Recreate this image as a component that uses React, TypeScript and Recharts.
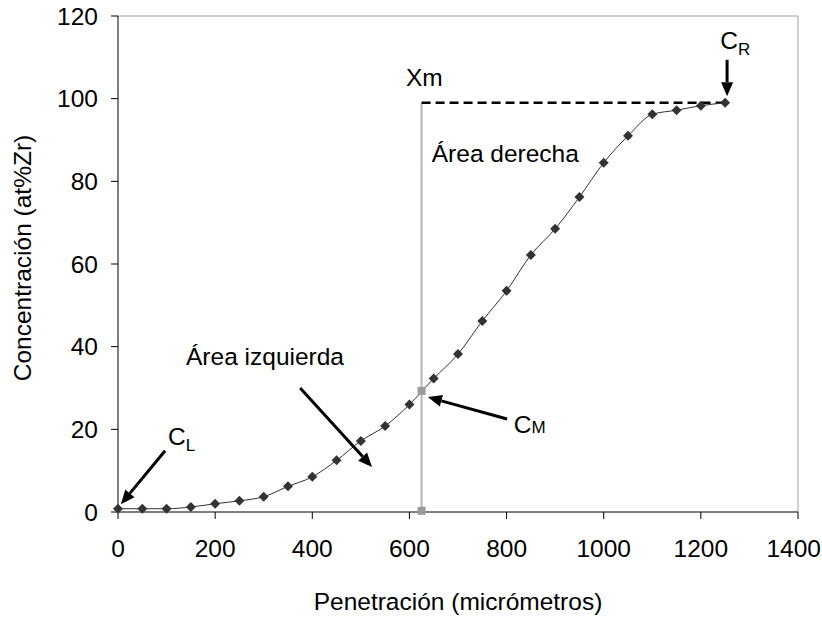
import {
  ComposedChart,
  Line,
  Scatter,
  XAxis,
  YAxis,
  ReferenceLine,
  ReferenceDot,
} from 'recharts';

// perfil de concentración
const penetracion = [
  0, 50, 100, 150, 200, 250, 300, 350, 400, 450, 500, 550, 600, 650, 700, 750, 800, 850, 900, 950,
  1000, 1050, 1100, 1150, 1200, 1250,
];
const concentracion = [
  0.8, 0.8, 0.8, 1.2, 2.0, 2.7, 3.7, 6.2, 8.5, 12.5, 17.2, 20.8, 26.0, 32.3, 38.2, 46.2, 53.5, 62.2,
  68.5, 76.2, 84.5, 91.0, 96.2, 97.2, 98.3, 99.0,
];

// plano de Matano y puntos auxiliares
const xMatano = [625, 625];
const yMatano = [0, 99];
const marcasX = [625, 625];
const marcasY = [29.3, 0.3];
const nivelX = [625, 1250];
const nivelY = [99, 99];

const xTicks = [0, 200, 400, 600, 800, 1000, 1200, 1400];
const yTicks = [0, 20, 40, 60, 80, 100, 120];

const perfil = penetracion.map((x, i) => ({ x, y: concentracion[i] }));
const matano = xMatano.map((x, i) => ({ x, y: yMatano[i] }));
const marcas = marcasX.map((x, i) => ({ x, y: marcasY[i] }));
const nivel = nivelX.map((x, i) => ({ x, y: nivelY[i] }));

const SANS = '"Liberation Sans", Arial, sans-serif';
const FS = 24.5;

const Diamond = (props: any) => {
  const { cx, cy } = props;
  if (cx == null || cy == null) return null;
  const r = 5;
  return (
    <polygon
      points={`${cx},${cy - r} ${cx + r},${cy} ${cx},${cy + r} ${cx - r},${cy}`}
      fill="#333333"
    />
  );
};

const Square = (props: any) => {
  const { cx, cy } = props;
  if (cx == null || cy == null) return null;
  return <rect x={cx - 4} y={cy - 4} width={8} height={8} fill="#9a9a9a" />;
};

const Arrow = (props: any) => {
  const { x1, y1, x2, y2 } = props;
  if ([x1, y1, x2, y2].some((v) => v == null || isNaN(v))) return null;
  const dx = x2 - x1;
  const dy = y2 - y1;
  const len = Math.sqrt(dx * dx + dy * dy);
  const ux = dx / len;
  const uy = dy / len;
  const head = 14;
  const half = 6;
  const bx = x2 - ux * head;
  const by = y2 - uy * head;
  return (
    <g>
      <line x1={x1} y1={y1} x2={bx} y2={by} stroke="#000" strokeWidth={3} />
      <polygon
        points={`${x2},${y2} ${bx - uy * half},${by + ux * half} ${bx + uy * half},${by - ux * half}`}
        fill="#000"
      />
    </g>
  );
};

const texto = (main: string, sub?: string, subSmall = false) => (props: any) => {
  const { cx, cy } = props;
  return (
    <text x={cx} y={cy} fontFamily={SANS} fontSize={FS} fill="#000">
      {main}
      {sub && (
        <tspan fontSize={17} dy={subSmall ? 0 : 6}>
          {sub}
        </tspan>
      )}
    </text>
  );
};

// la última etiqueta (1400) se ajusta para que no salga del lienzo
const XTick = (props: any) => {
  const { x, y, payload } = props;
  const last = payload.value === xTicks[xTicks.length - 1];
  return (
    <text
      x={last ? 821 : x}
      y={y}
      dy="0.71em"
      textAnchor={last ? 'end' : 'middle'}
      fontFamily={SANS}
      fontSize={FS}
      fill="#000"
    >
      {payload.value}
    </text>
  );
};

const YTitle = (props: any) => {
  const { viewBox } = props;
  const cx = 22;
  const cy = viewBox.y + viewBox.height / 2 - 6;
  return (
    <text
      x={cx}
      y={cy}
      transform={`rotate(-90 ${cx} ${cy})`}
      textAnchor="middle"
      dominantBaseline="central"
      fontFamily={SANS}
      fontSize={FS}
      fill="#000"
    >
      Concentración (at%Zr)
    </text>
  );
};

const XTitle = (props: any) => {
  const { viewBox } = props;
  const cx = viewBox.x + viewBox.width / 2;
  const cy = viewBox.y + 89;
  return (
    <text x={cx} y={cy} textAnchor="middle" dominantBaseline="central" fontFamily={SANS} fontSize={FS} fill="#000">
      Penetración (micrómetros)
    </text>
  );
};

export default function App() {
  return (
    <div style={{ position: 'absolute', left: 0, top: 0, background: '#fff' }}>
      <ComposedChart width={822} height={617} margin={{ top: 16, right: 24, bottom: 0, left: 0 }}>
        <XAxis
          type="number"
          dataKey="x"
          domain={[0, 1400]}
          ticks={xTicks}
          height={105}
          tickSize={7}
          tickMargin={21}
          stroke="#000"
          tick={<XTick />}
          label={<XTitle />}
        />
        <YAxis
          type="number"
          dataKey="y"
          domain={[0, 120]}
          ticks={yTicks}
          width={118}
          tickSize={7}
          tickMargin={13}
          stroke="#000"
          tick={{ fontSize: FS, fill: '#000', fontFamily: SANS }}
          label={<YTitle />}
        />
        <ReferenceLine y={120} stroke="#a0a0a0" />
        <ReferenceLine x={1400} stroke="#a0a0a0" />
        <Line
          data={matano}
          dataKey="y"
          stroke="#b5b5b5"
          strokeWidth={2}
          dot={false}
          isAnimationActive={false}
        />
        <Line
          data={nivel}
          dataKey="y"
          stroke="#000"
          strokeWidth={2.5}
          strokeDasharray="9 5"
          dot={false}
          isAnimationActive={false}
        />
        <Line
          data={perfil}
          dataKey="y"
          type="monotone"
          stroke="#333333"
          strokeWidth={1}
          dot={<Diamond />}
          isAnimationActive={false}
        />
        <Scatter data={marcas} dataKey="y" shape={<Square />} isAnimationActive={false} />

        <ReferenceLine segment={[{ x: 97, y: 14.8 }, { x: 6, y: 1.9 }]} shape={<Arrow />} />
        <ReferenceLine segment={[{ x: 375, y: 30 }, { x: 523, y: 10.9 }]} shape={<Arrow />} />
        <ReferenceLine segment={[{ x: 801, y: 22.5 }, { x: 638, y: 27.8 }]} shape={<Arrow />} />
        <ReferenceLine segment={[{ x: 1254, y: 109.4 }, { x: 1254, y: 100.6 }]} shape={<Arrow />} />

        <ReferenceDot x={103} y={16.2} r={0} shape={texto('C', 'L')} />
        <ReferenceDot x={140} y={35.6} r={0} shape={texto('Área izquierda')} />
        <ReferenceDot x={815} y={19.1} r={0} shape={texto('C', 'M', true)} />
        <ReferenceDot x={593} y={103} r={0} shape={texto('Xm')} />
        <ReferenceDot x={646} y={84.7} r={0} shape={texto('Área derecha')} />
        <ReferenceDot x={1240} y={112} r={0} shape={texto('C', 'R')} />
      </ComposedChart>
    </div>
  );
}
